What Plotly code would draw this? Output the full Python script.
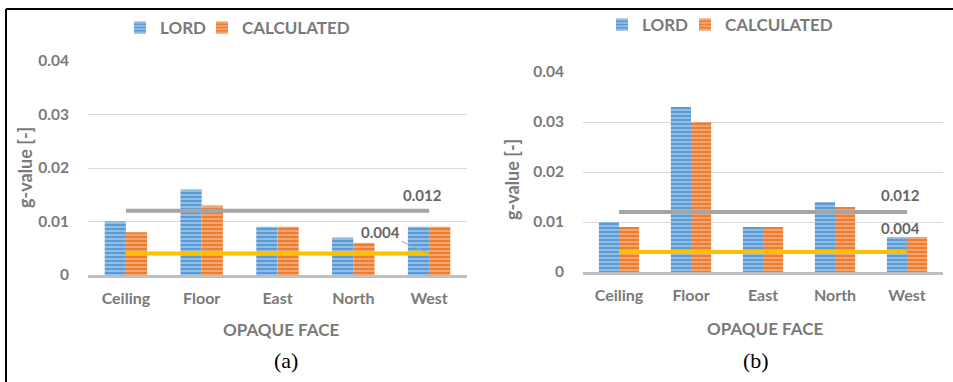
import plotly.graph_objects as go

categories = ["Ceiling", "Floor", "East", "North", "West"]
lord_a = [0.010, 0.016, 0.009, 0.007, 0.009]
calc_a = [0.008, 0.013, 0.009, 0.006, 0.009]
lord_b = [0.010, 0.033, 0.009, 0.014, 0.007]
calc_b = [0.009, 0.030, 0.009, 0.013, 0.007]
upper_limit = [0.012, 0.012, 0.012, 0.012, 0.012]
lower_limit = [0.004, 0.004, 0.004, 0.004, 0.004]
y_ticks = [0, 0.01, 0.02, 0.03, 0.04]
y_ticktext = ["0", "0.01", "0.02", "0.03", "0.04"]

W, H = 953, 382
FONT = "Lato"
GRAY = "#7a7a7a"
BLUE, BLUE_L = "#5b9bd5", "#a9cdee"
ORANGE, ORANGE_L = "#ed7d31", "#f6b58a"


def px(x):
    return x / W


def py(y):
    return 1 - y / H


fig = go.Figure()

panels = [
    ("x", "y", lord_a, calc_a, "legend", "legend2"),
    ("x2", "y2", lord_b, calc_b, "legend3", "legend4"),
]
for xa, ya, lord, calc, leg1, leg2 in panels:
    fig.add_trace(go.Bar(
        x=categories, y=lord, name="LORD", xaxis=xa, yaxis=ya, legend=leg1,
        marker=dict(color=BLUE, line=dict(width=0),
                    pattern=dict(shape="-", fillmode="replace", bgcolor=BLUE,
                                 fgcolor=BLUE_L, size=4, solidity=0.35)),
    ))
    fig.add_trace(go.Bar(
        x=categories, y=calc, name="CALCULATED", xaxis=xa, yaxis=ya, legend=leg2,
        marker=dict(color=ORANGE, line=dict(width=0),
                    pattern=dict(shape="-", fillmode="replace", bgcolor=ORANGE,
                                 fgcolor=ORANGE_L, size=4, solidity=0.35)),
    ))
    fig.add_trace(go.Scatter(
        x=categories, y=upper_limit, mode="lines", xaxis=xa, yaxis=ya,
        line=dict(color="#a5a5a5", width=4), showlegend=False, hoverinfo="y",
    ))
    fig.add_trace(go.Scatter(
        x=categories, y=lower_limit, mode="lines", xaxis=xa, yaxis=ya,
        line=dict(color="#ffc000", width=4), showlegend=False, hoverinfo="y",
    ))

xcommon = dict(type="category", showgrid=False, showline=True, linecolor="#bfbfbf",
               linewidth=3, ticks="", automargin=False,
               tickfont=dict(family=FONT, size=16, color=GRAY, weight="bold"),
               ticklabelstandoff=7, fixedrange=True)
ycommon = dict(range=[0, 0.04], tickvals=y_ticks, ticktext=y_ticktext,
               showgrid=True, gridcolor="#d9d9d9", gridwidth=1, zeroline=False,
               showline=False, ticks="", automargin=False,
               tickfont=dict(family=FONT, size=15.5, color=GRAY, weight="bold"),
               ticklabelstandoff=18, fixedrange=True)
legend_font = dict(family=FONT, size=17, color=GRAY, weight="bold")


def legend_at(x, y):
    return dict(orientation="h", x=px(x), y=py(y), xanchor="left", yanchor="middle",
                font=legend_font, bgcolor="rgba(0,0,0,0)", itemwidth=30)


fig.update_layout(
    width=W, height=H,
    margin=dict(l=0, r=0, t=0, b=0, pad=0, autoexpand=False),
    paper_bgcolor="white", plot_bgcolor="white",
    barmode="group", bargap=0.44, bargroupgap=0,
    font=dict(family=FONT, color=GRAY),
    xaxis=dict(domain=[px(88), px(467)], anchor="y", **xcommon),
    yaxis=dict(domain=[py(275), py(61)], anchor="x", **ycommon),
    xaxis2=dict(domain=[px(583), px(943)], anchor="y2", **xcommon),
    yaxis2=dict(domain=[py(272), py(72)], anchor="x2", **ycommon),
    legend=legend_at(120, 28),
    legend2=legend_at(202, 28),
    legend3=legend_at(602, 25),
    legend4=legend_at(685, 25),
    showlegend=True,
)

label_font = dict(family=FONT, size=15, color="#666666", weight="bold")
title_font = dict(family=FONT, size=18, color=GRAY, weight="bold")
xtitle_font = dict(family=FONT, size=17, color=GRAY, weight="bold")
cap_font = dict(family="Liberation Serif", size=22, color="black")


def paper_text(text, x, y, font, angle=0):
    return dict(text=text, x=px(x), y=py(y), xref="paper", yref="paper",
                xanchor="center", yanchor="middle", showarrow=False,
                textangle=angle, font=font)


annotations = [
    paper_text("g-value [-]", 25, 168, title_font, -90),
    paper_text("g-value [-]", 512, 180, title_font, -90),
    paper_text("OPAQUE FACE", 281, 329, xtitle_font),
    paper_text("OPAQUE FACE", 765, 328, xtitle_font),
    paper_text("(a)", 286, 360, cap_font),
    paper_text("(b)", 756, 360, cap_font),
    # data labels
    dict(text="0.012", x=categories[-1], y=upper_limit[-1], xref="x", yref="y",
         showarrow=False, xshift=-7, yshift=16, font=label_font),
    dict(text="0.004", x=categories[-1], y=lower_limit[-1], xref="x", yref="y",
         showarrow=True, arrowhead=0, arrowwidth=1, arrowcolor="#a6a6a6",
         ax=-49, ay=-22, font=label_font),
    dict(text="0.012", x=categories[-1], y=upper_limit[-1], xref="x2", yref="y2",
         showarrow=False, xshift=-7, yshift=17, font=label_font),
    dict(text="0.004", x=categories[-1], y=lower_limit[-1], xref="x2", yref="y2",
         showarrow=True, arrowhead=0, arrowwidth=1, arrowcolor="#a6a6a6",
         ax=-7, ay=-24, font=label_font),
]
fig.update_layout(annotations=annotations)

# figure frame (top and left edges visible)
fig.add_shape(type="line", xref="paper", yref="paper", x0=px(6), x1=px(6), y0=0, y1=py(9),
              line=dict(color="black", width=2))
fig.add_shape(type="line", xref="paper", yref="paper", x0=px(6), x1=1, y0=py(9), y1=py(9),
              line=dict(color="black", width=2))

fig.write_html("out.html", config={"displayModeBar": False},
               post_script="document.body.style.margin='0';document.body.style.overflow='hidden';")
